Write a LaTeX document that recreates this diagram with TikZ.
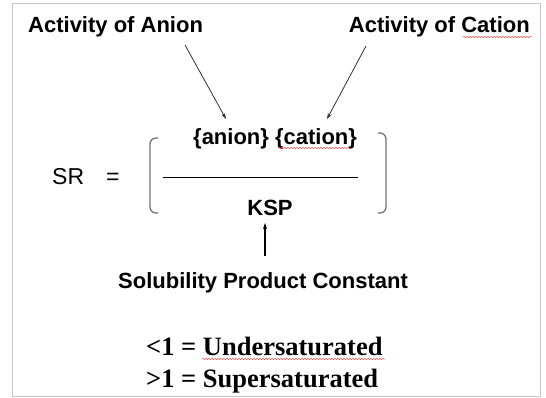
\documentclass[tikz,border=0pt]{standalone}
\usepackage{fontspec}
\setmainfont{Liberation Sans}
\newfontfamily\tnr{Liberation Serif}
\usetikzlibrary{arrows.meta,decorations.pathmorphing}
\tikzset{
  lbl/.style={inner sep=0pt, font=\fontsize{22}{26}\selectfont\bfseries},
  tnrlbl/.style={inner sep=0pt, font=\tnr\fontsize{26.5}{30}\selectfont\bfseries},
  pointer/.style={draw=black!80, line width=0.8pt, -{Stealth[length=6pt,width=4pt]}},
  brack/.style={draw=black!55, line width=1.3pt, rounded corners=6pt},
  squiggle/.style={draw=red!65, line width=0.5pt, decorate, decoration={snake, amplitude=0.7pt, segment length=3pt}},
  frame/.style={draw=black!22, line width=1.6pt}
}
\begin{document}
\begin{tikzpicture}[x=1pt,y=-1pt]
\useasboundingbox (0,0) rectangle (546,398);
\draw[frame] (12.5,3.5) rectangle (540.5,396.5);

\node[lbl, anchor=base west] (anionlbl) at (28,33) {Activity of Anion};
\node[lbl, anchor=base east] (cationlbl) at (530,33) {Activity of Cation};
\node[lbl, anchor=base west] (num) at (193,145) {\{anion\} \{cation\}};
\node[inner sep=0pt, anchor=base west, font=\fontsize{23}{26}\selectfont] (sr) at (52,185) {SR\hspace{22pt}=};
\node[lbl, anchor=base] (ksp) at (270,215) {KSP};
\node[lbl, anchor=base west] (spc) at (118,288) {Solubility Product Constant};
\node[tnrlbl, anchor=base west] (under) at (146,355) {<1 = Undersaturated};
\node[tnrlbl, anchor=base west] (super) at (146,387) {>1 = Supersaturated};

% fraction line
\coordinate (fl) at (163,177);
\coordinate (fr) at (358,177);
\draw[line width=0.9pt] (fl) -- (fr);

% brackets
\draw[brack] (158,138) -- (150,138) -- (150,213) -- (158,213);
\draw[brack] (378,133) -- (386,133) -- (386,213) -- (378,213);

% arrows
\coordinate (a1s) at (185,45);
\coordinate (a1e) at (226,119);
\coordinate (a2s) at (366,46);
\coordinate (a2e) at (327,119);
\coordinate (a3s) at (265,256);
\coordinate (a3e) at (265,223);
\draw[pointer] (a1s) -- (a1e);
\draw[pointer] (a2s) -- (a2e);
\draw[draw=black, line width=1.2pt, -{Stealth[length=6pt,width=4pt]}] (a3s) -- (a3e);

% spell-check squiggles
\draw[squiggle] (463,37) -- (532,37);
\draw[squiggle] (278,148) -- (349,148);
\draw[squiggle] (202,359) -- (385,359);
\end{tikzpicture}
\end{document}
